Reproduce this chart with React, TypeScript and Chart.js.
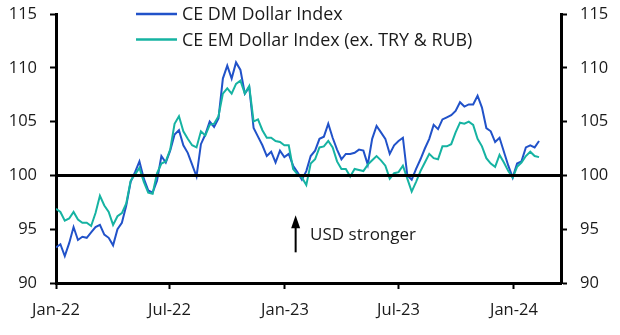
import { useEffect, useRef } from "react";
import { Chart, registerables } from "chart.js";

Chart.register(...registerables);

// Days counted from 1 Jan 2022; one value per week
const START_DAY = 0;
const STEP_DAYS = 7;

const dmValues = [
  93.3, 93.6, 92.5, 93.7, 95.2, 94.0, 94.3, 94.2, 94.7, 95.2,
  95.4, 94.5, 94.2, 93.5, 95.0, 95.6, 97.2, 99.4, 100.3, 101.3,
  99.7, 98.6, 98.4, 99.5, 101.8, 101.2, 102.3, 103.8, 104.2, 102.8,
  102.1, 101.0, 99.9, 102.9, 103.8, 105.0, 104.5, 105.3, 109.0, 110.2,
  109.0, 110.5, 109.8, 107.6, 108.2, 104.4, 103.6, 102.8, 101.8, 102.2,
  101.2, 102.3, 101.7, 102.0, 100.9, 100.3, 99.6, 100.4, 101.8, 102.3,
  103.4, 103.6, 104.8, 103.5, 102.4, 101.5, 102.0, 102.0, 102.1, 102.4,
  102.3, 101.0, 103.4, 104.6, 104.0, 103.4, 102.0, 102.8, 103.2, 103.5,
  100.0, 99.6, 100.6, 101.5, 102.5, 103.4, 104.7, 104.3, 105.2, 105.4,
  105.6, 106.0, 106.8, 106.4, 106.6, 106.6, 107.4, 106.3, 104.4, 104.1,
  103.1, 103.5, 102.2, 100.9, 99.8, 101.1, 101.3, 102.6, 102.8, 102.6,
  103.2,
];

const emValues = [
  96.9, 96.6, 95.8, 96.0, 96.6, 95.9, 95.6, 95.6, 95.3, 96.5,
  98.1, 97.2, 96.6, 95.4, 96.2, 96.5, 97.4, 99.5, 100.1, 100.7,
  99.4, 98.4, 98.3, 100.2, 101.1, 101.3, 102.4, 104.8, 105.5, 104.1,
  103.4, 102.8, 102.6, 104.1, 103.7, 104.7, 104.8, 105.5, 107.6, 108.1,
  107.6, 108.5, 108.8, 107.6, 108.3, 105.0, 105.2, 104.2, 103.5, 103.5,
  103.2, 103.1, 102.8, 102.8, 100.6, 100.1, 99.8, 99.1, 101.1, 101.5,
  102.6, 102.7, 103.2, 102.6, 101.3, 100.6, 100.6, 99.9, 100.6, 100.5,
  100.4, 101.0, 101.4, 101.8, 101.4, 100.9, 99.7, 100.2, 100.3, 100.9,
  99.7, 98.5, 99.4, 100.4, 101.2, 102.0, 101.6, 101.5, 102.7, 102.7,
  102.9, 104.0, 104.9, 104.8, 105.0, 104.7, 103.4, 102.7, 101.6, 101.1,
  100.8, 101.9, 101.2, 100.4, 99.8, 100.8, 101.2, 101.8, 102.2, 101.8,
  101.7,
];

const seriesNames = ["CE DM Dollar Index", "CE EM Dollar Index (ex. TRY & RUB)"];
const seriesColors = ["#2152c9", "#16b3a2"];

const xTickDays = [0, 181, 365, 546, 730];
const xTickLabels = ["Jan-22", "Jul-22", "Jan-23", "Jul-23", "Jan-24"];
const X_MIN = 0;
const X_MAX = 805;
const Y_MIN = 90;
const Y_MAX = 115;
const Y_STEP = 5;
const REF_LEVEL = 100;

const annotationText = "USD stronger";
const arrowDay = 382;
const arrowFrom = 92.85;
const arrowTo = 96.3;
const annotationDay = 405;
const annotationValue = 94.4;

const FONT = "'Open Sans', 'Noto Sans', sans-serif";

const toPoints = (vals: number[]) =>
  vals.map((v, i) => ({ x: START_DAY + i * STEP_DAYS, y: v }));

const overlayPlugin = {
  id: "overlay",
  afterDatasetsDraw(chart: any) {
    const { ctx, chartArea, scales } = chart;
    const x = scales.x;
    const y = scales.y;
    ctx.save();
    // reference line at 100
    const y100 = y.getPixelForValue(REF_LEVEL);
    ctx.strokeStyle = "#000";
    ctx.lineWidth = 3;
    ctx.beginPath();
    ctx.moveTo(chartArea.left, y100);
    ctx.lineTo(chartArea.right, y100);
    ctx.stroke();

    // arrow
    const ax = x.getPixelForValue(arrowDay);
    const ay0 = y.getPixelForValue(arrowFrom);
    const ay1 = y.getPixelForValue(arrowTo);
    ctx.lineWidth = 2;
    ctx.beginPath();
    ctx.moveTo(ax, ay0);
    ctx.lineTo(ax, ay1 + 10);
    ctx.stroke();
    ctx.fillStyle = "#000";
    ctx.beginPath();
    ctx.moveTo(ax, ay1);
    ctx.lineTo(ax - 4.5, ay1 + 13);
    ctx.lineTo(ax + 4.5, ay1 + 13);
    ctx.closePath();
    ctx.fill();

    ctx.font = `17px ${FONT}`;
    ctx.fillStyle = "#1a1a1a";
    ctx.textBaseline = "middle";
    ctx.textAlign = "left";
    ctx.fillText(
      annotationText,
      x.getPixelForValue(annotationDay),
      y.getPixelForValue(annotationValue)
    );

    // legend
    ctx.font = `17.9px ${FONT}`;
    const lx0 = chartArea.left + 80;
    const lx1 = lx0 + 41;
    seriesNames.forEach((name, i) => {
      const ly = chartArea.top + i * 25.5;
      ctx.strokeStyle = seriesColors[i];
      ctx.lineWidth = 2.5;
      ctx.beginPath();
      ctx.moveTo(lx0, ly);
      ctx.lineTo(lx1, ly);
      ctx.stroke();
      ctx.fillStyle = "#1a1a1a";
      ctx.fillText(name, lx1 + 5, ly + 1);
    });
    ctx.restore();
  },
};

export default function App() {
  const ref = useRef<HTMLCanvasElement | null>(null);

  useEffect(() => {
    if (!ref.current) return;
    const tickFont = { family: FONT, size: 16.5 };
    const yCommon = {
      type: "linear" as const,
      min: Y_MIN,
      max: Y_MAX,
      ticks: { stepSize: Y_STEP, color: "#1a1a1a", font: tickFont, padding: 13 },
      grid: {
        drawOnChartArea: false,
        drawTicks: true,
        tickLength: 6,
        tickWidth: 2,
        tickColor: "#000",
        color: "#000",
      },
      border: { display: true, color: "#000", width: 3 },
    };
    const chart = new Chart(ref.current, {
      type: "line",
      data: {
        datasets: [
          {
            label: seriesNames[0],
            data: toPoints(dmValues),
            borderColor: seriesColors[0],
            borderWidth: 2,
            pointRadius: 0,
            tension: 0,
            order: 1,
          },
          {
            label: seriesNames[1],
            data: toPoints(emValues),
            borderColor: seriesColors[1],
            borderWidth: 2,
            pointRadius: 0,
            tension: 0,
            order: 0,
          },
        ],
      },
      options: {
        responsive: false,
        animation: false,
        layout: { padding: { top: 14, left: 0, right: 0, bottom: 0 } },
        plugins: { legend: { display: false }, tooltip: { enabled: false } },
        scales: {
          x: {
            type: "linear",
            min: X_MIN,
            max: X_MAX,
            afterBuildTicks: (scale: any) => {
              scale.ticks = xTickDays.map((v) => ({ value: v }));
            },
            afterFit: (scale: any) => {
              scale.height = 52;
              scale.paddingLeft = 0;
              scale.paddingRight = 0;
            },
            ticks: {
              color: "#1a1a1a",
              font: tickFont,
              padding: 11,
              maxRotation: 0,
              autoSkip: false,
              callback: (v: any) => {
                const idx = xTickDays.indexOf(Number(v));
                return idx >= 0 ? xTickLabels[idx] : "";
              },
            },
            grid: {
              drawOnChartArea: false,
              drawTicks: true,
              tickLength: 6,
              tickWidth: 2,
              tickColor: "#000",
              color: "#000",
            },
            border: { display: true, color: "#000", width: 3 },
          },
          y: {
            ...yCommon,
            position: "left",
            afterFit: (scale: any) => {
              scale.width = 56;
              scale.paddingTop = 0;
              scale.paddingBottom = 0;
            },
          },
          y2: {
            ...yCommon,
            position: "right",
            afterFit: (scale: any) => {
              scale.width = 59;
              scale.paddingTop = 0;
              scale.paddingBottom = 0;
            },
          },
        },
      } as any,
      plugins: [overlayPlugin],
    });
    return () => chart.destroy();
  }, []);

  return (
    <div style={{ position: "fixed", left: 0, top: 0, width: 620, height: 335, background: "#fff" }}>
      <canvas ref={ref} width={620} height={335} style={{ display: "block" }} />
    </div>
  );
}
